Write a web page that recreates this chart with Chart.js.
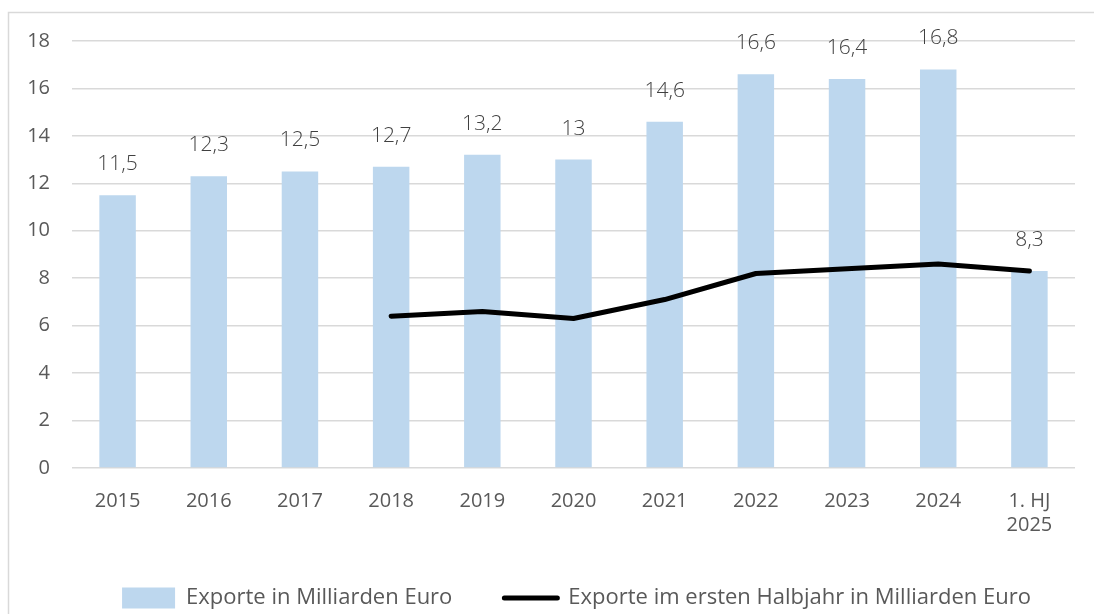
<!DOCTYPE html>
<html>
<head>
<meta charset="utf-8">
<script src="https://cdn.jsdelivr.net/npm/chart.js@4/dist/chart.umd.min.js"></script>
<style>
  html, body { margin: 0; padding: 0; background: #fff; }
  #wrap { width: 1094px; height: 614px; position: relative; }
</style>
</head>
<body>
<div id="wrap"><canvas id="myChart"></canvas></div>
<script>
const labels = ['2015', '2016', '2017', '2018', '2019', '2020', '2021', '2022', '2023', '2024', ['1. HJ', '2025']];
const exporte = [11.5, 12.3, 12.5, 12.7, 13.2, 13, 14.6, 16.6, 16.4, 16.8, 8.3];
const exporteHalbjahr = [null, null, null, 6.4, 6.6, 6.3, 7.1, 8.2, 8.4, 8.6, 8.3];
const yTicks = [0, 2, 4, 6, 8, 10, 12, 14, 16, 18];

// frame around the whole chart
const framePlugin = {
  id: 'frame',
  beforeDraw(chart) {
    const c = chart.ctx;
    c.save();
    c.strokeStyle = '#d9d9d9';
    c.lineWidth = 1.5;
    c.strokeRect(8.5, 12.5, 1200, 800);
    c.restore();
  },
};

// legend sits a bit right of centre in the original
const legendShift = {
  id: 'legendShift',
  afterLayout(chart) {
    chart.legend.left += 35;
    chart.legend.right += 35;
  },
};

// value labels above the bars
const barLabels = {
  id: 'barLabels',
  afterDatasetsDraw(chart) {
    const c = chart.ctx;
    const meta = chart.getDatasetMeta(0);
    c.save();
    c.font = '300 21px "Open Sans"';
    c.fillStyle = '#404040';
    c.textAlign = 'center';
    c.textBaseline = 'middle';
    meta.data.forEach((bar, i) => {
      c.fillText(String(exporte[i]).replace('.', ','), bar.x, bar.y - 31);
    });
    c.restore();
  },
};

const ctx = document.getElementById('myChart').getContext('2d');
const myChart = new Chart(ctx, {
  type: 'bar',
  data: {
    labels,
    datasets: [
      {
        label: 'Exporte in Milliarden Euro',
        data: exporte,
        backgroundColor: '#bdd7ee',
        barPercentage: 0.4,
        categoryPercentage: 1,
        order: 2,
      },
      {
        type: 'line',
        label: 'Exporte im ersten Halbjahr in Milliarden Euro',
        data: exporteHalbjahr,
        borderColor: '#000',
        backgroundColor: '#000',
        borderWidth: 5,
        borderCapStyle: 'round',
        borderJoinStyle: 'round',
        pointRadius: 0,
        tension: 0,
        order: 1,
      },
    ],
  },
  options: {
    responsive: true,
    maintainAspectRatio: false,
    animation: false,
    layout: {
      padding: { left: 8, top: 41, right: 19, bottom: -5 },
    },
    scales: {
      x: {
        grid: { display: false },
        border: { display: false },
        ticks: {
          color: '#595959',
          font: { family: 'Open Sans', size: 20 },
          maxRotation: 0,
          autoSkip: false,
          padding: 13,
        },
        afterFit(scale) { scale.height = 67; },
      },
      y: {
        min: 0,
        max: 18,
        afterBuildTicks(scale) { scale.ticks = yTicks.map(v => ({ value: v })); },
        grid: { color: '#d9d9d9', lineWidth: 1.5, drawTicks: false },
        border: { display: false },
        ticks: {
          color: '#595959',
          font: { family: 'Open Sans', size: 20 },
          padding: 22,
        },
        afterFit(scale) { scale.width = 64; },
      },
    },
    plugins: {
      legend: {
        position: 'bottom',
        labels: {
          color: '#595959',
          font: { family: 'Open Sans', size: 22 },
          usePointStyle: true,
          pointStyleWidth: 53,
          boxHeight: 21,
          padding: 52,
          generateLabels(chart) {
            return chart.data.datasets.map((ds, i) => ({
              text: ds.label,
              fillStyle: ds.backgroundColor,
              strokeStyle: i === 0 ? ds.backgroundColor : '#000',
              lineWidth: i === 0 ? 0 : 5,
              lineCap: 'round',
              pointStyle: i === 0 ? 'rect' : 'line',
              fontColor: '#595959',
              datasetIndex: i,
              hidden: false,
            }));
          },
        },
      },
      tooltip: { enabled: false },
    },
  },
  plugins: [framePlugin, legendShift, barLabels],
});
</script>
</body>
</html>
